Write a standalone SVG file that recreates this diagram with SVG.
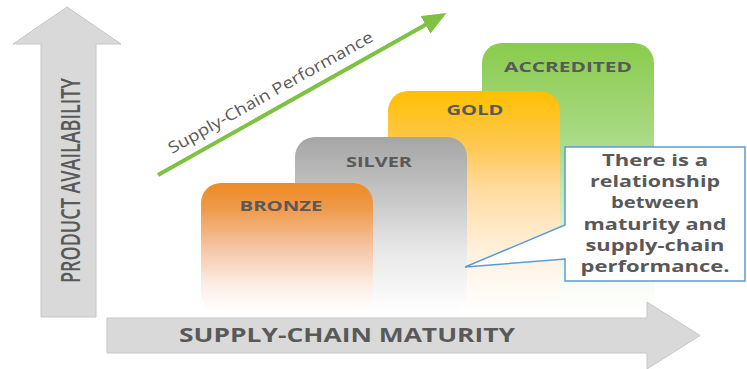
<svg xmlns="http://www.w3.org/2000/svg" width="747" height="369" viewBox="0 0 747 369">
  <style>
    .axis { fill: #d9d9d9; stroke: #c6c6c6; stroke-width: 1; }
    .axis-label { font-family: "Open Sans", "Liberation Sans", sans-serif; font-weight: 700; fill: #595959; }
    .axis-label.vertical { font-weight: 600; }
    .step-label { font-family: "Open Sans", "Liberation Sans", sans-serif; font-weight: 700; font-size: 15px; fill: #595959; text-anchor: middle; }
    .perf-label { font-family: "Open Sans", "Liberation Sans", sans-serif; font-size: 16px; fill: #595959; }
    .note { font-family: "Open Sans", "Liberation Sans", sans-serif; font-weight: 700; font-size: 16px; fill: #595959; text-anchor: middle; }
  </style>
  <defs>
    <linearGradient id="gBronze" x1="0" y1="0" x2="0" y2="1">
      <stop offset="0" stop-color="#ed8b24"/>
      <stop offset="0.2" stop-color="#ef9a4c"/>
      <stop offset="0.5" stop-color="#f5c5a4"/>
      <stop offset="0.8" stop-color="#fcefe6"/>
      <stop offset="1" stop-color="#ffffff"/>
    </linearGradient>
    <linearGradient id="gSilver" x1="0" y1="0" x2="0" y2="1">
      <stop offset="0" stop-color="#a5a5a5"/>
      <stop offset="0.36" stop-color="#c8c8c8"/>
      <stop offset="0.65" stop-color="#e8e8e8"/>
      <stop offset="0.88" stop-color="#f7f7f7"/>
      <stop offset="1" stop-color="#ffffff"/>
    </linearGradient>
    <linearGradient id="gGold" x1="0" y1="0" x2="0" y2="1">
      <stop offset="0" stop-color="#ffbf00"/>
      <stop offset="0.27" stop-color="#ffc95a"/>
      <stop offset="0.45" stop-color="#ffdca0"/>
      <stop offset="0.72" stop-color="#fff0dc"/>
      <stop offset="0.9" stop-color="#fffaf4"/>
      <stop offset="1" stop-color="#ffffff"/>
    </linearGradient>
    <linearGradient id="gGreen" x1="0" y1="0" x2="0" y2="1">
      <stop offset="0" stop-color="#8acb4d"/>
      <stop offset="0.4" stop-color="#addc8c"/>
      <stop offset="0.75" stop-color="#e6f4dc"/>
      <stop offset="0.92" stop-color="#fafdf7"/>
      <stop offset="1" stop-color="#ffffff"/>
    </linearGradient>
    <marker id="greenHead" markerWidth="6" markerHeight="5" refX="5" refY="2.5" orient="auto" markerUnits="strokeWidth">
      <path d="M0,0 L6,2.5 L0,5 Z" fill="#7dc242"/>
    </marker>
  </defs>

  <!-- vertical axis: product availability -->
  <g id="axis-availability">
    <path class="axis" d="M67,7 L121,44 L96,44 L96,317 L41,317 L41,44 L13,44 Z"/>
    <text class="axis-label vertical" font-size="27" transform="translate(80,180.5) rotate(-90)" text-anchor="middle" textLength="205" lengthAdjust="spacingAndGlyphs">PRODUCT AVAILABILITY</text>
  </g>

  <!-- maturity steps, back to front -->
  <g id="step-accredited">
    <rect x="482" y="43" width="172" height="269" rx="20" fill="url(#gGreen)"/>
    <text class="step-label" x="568" y="72" textLength="128" lengthAdjust="spacingAndGlyphs">ACCREDITED</text>
  </g>
  <g id="step-gold">
    <rect x="388" y="91" width="172" height="221" rx="20" fill="url(#gGold)"/>
    <text class="step-label" x="475" y="115" textLength="57" lengthAdjust="spacingAndGlyphs">GOLD</text>
  </g>
  <g id="step-silver">
    <rect x="295" y="137" width="172" height="175" rx="20" fill="url(#gSilver)"/>
    <text class="step-label" x="379" y="167" textLength="66" lengthAdjust="spacingAndGlyphs">SILVER</text>
  </g>
  <g id="step-bronze">
    <rect x="201" y="183" width="172" height="129" rx="20" fill="url(#gBronze)"/>
    <text class="step-label" x="281" y="211" textLength="83" lengthAdjust="spacingAndGlyphs">BRONZE</text>
  </g>

  <!-- horizontal axis: supply-chain maturity -->
  <g id="axis-maturity">
    <path class="axis" d="M107,318 L647,318 L647,302 L700,335.5 L647,369 L647,353 L107,353 Z"/>
    <text class="axis-label" x="179" y="342" font-size="20" textLength="336" lengthAdjust="spacingAndGlyphs">SUPPLY-CHAIN MATURITY</text>
  </g>

  <!-- performance trend arrow -->
  <g id="connectors">
    <line x1="158" y1="175" x2="443" y2="15" stroke="#7dc242" stroke-width="4" marker-end="url(#greenHead)"/>
  </g>
  <g id="performance-label">
    <text class="perf-label" transform="translate(172,154) rotate(-29.3)" textLength="232" lengthAdjust="spacingAndGlyphs">Supply-Chain Performance</text>
  </g>

  <!-- callout -->
  <g id="callout">
    <path d="M565,147 H745 V281 H565 V259 L465,267 L565,225 Z" fill="#ffffff" stroke="#5b9bd5" stroke-width="1.5" stroke-linejoin="miter"/>
    <text class="note" x="655" y="166" textLength="106" lengthAdjust="spacingAndGlyphs">There is a</text>
    <text class="note" x="655" y="187.2" textLength="130" lengthAdjust="spacingAndGlyphs">relationship</text>
    <text class="note" x="655" y="208.4" textLength="88" lengthAdjust="spacingAndGlyphs">between</text>
    <text class="note" x="655" y="229.6" textLength="143" lengthAdjust="spacingAndGlyphs">maturity and</text>
    <text class="note" x="655" y="250.8" textLength="139" lengthAdjust="spacingAndGlyphs">supply-chain</text>
    <text class="note" x="655" y="272" textLength="149" lengthAdjust="spacingAndGlyphs">performance.</text>
  </g>
</svg>
